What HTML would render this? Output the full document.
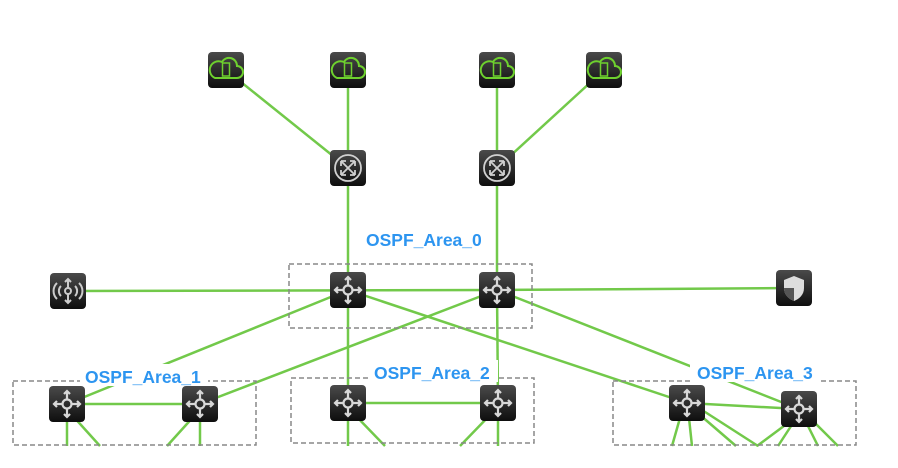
<!DOCTYPE html>
<html><head><meta charset="utf-8"><style>
html,body{margin:0;padding:0;background:#fff;width:898px;height:468px;overflow:hidden}
text{font-family:"Liberation Sans",sans-serif;font-weight:bold;fill:#2d95f0;font-size:17.5px}
</style></head><body>
<svg width="898" height="468" viewBox="0 0 898 468" xmlns="http://www.w3.org/2000/svg">
<defs>
<linearGradient id="g" x1="0" y1="0" x2="0" y2="1"><stop offset="0" stop-color="#4a4a4a"/><stop offset="1" stop-color="#0e0e0e"/></linearGradient>
<g id="bg"><rect x="-18" y="-18" width="36" height="36" rx="4" fill="url(#g)"/></g>
<g id="rt"><use href="#bg"/>
<g stroke="#d8d8d8" stroke-width="2.2" fill="none"><circle r="4.5"/>
<path d="M0-4.5V-13M0 4.5V13M-4.5 0H-13M4.5 0H13"/>
<path d="M-3-10L0-13L3-10M-3 10L0 13L3 10M-10-3L-13 0L-10 3M10-3L13 0L10 3"/></g></g>
<g id="sw"><use href="#bg"/><g stroke="#d0d0d0" stroke-width="1.8" fill="none"><circle r="13"/>
<path d="M-7-7L7 7M7-7L-7 7M-7-7h5M-7-7v5M7 7h-5M7 7v-5M7-7h-5M7-7v5M-7 7h5M-7 7v-5"/></g></g>
<g id="cl"><use href="#bg"/><path d="M-11 8h22a6 6 0 0 0 0-12a8 8 0 0 0-15-4a7 7 0 0 0-7 16z" stroke="#6ed12e" stroke-width="2" fill="none"/>
<rect x="-3.5" y="-7" width="7" height="13" stroke="#6ed12e" stroke-width="1.5" fill="none"/></g>
</defs>
<g stroke="#72c94a" stroke-width="2.5" fill="none">
<line x1="226" y1="70" x2="348" y2="168"/><line x1="348" y1="70" x2="348" y2="290"/>
<line x1="497" y1="70" x2="497" y2="290"/><line x1="604" y1="70" x2="497" y2="168"/>
<line x1="68" y1="291" x2="497" y2="290"/><line x1="497" y1="290" x2="794" y2="288"/>
<line x1="348" y1="290" x2="67" y2="404"/><line x1="497" y1="290" x2="200" y2="404"/>
<line x1="348" y1="290" x2="348" y2="403"/><line x1="497" y1="290" x2="498" y2="403"/>
<line x1="348" y1="290" x2="687" y2="403"/><line x1="497" y1="290" x2="799" y2="409"/>
<line x1="67" y1="404" x2="200" y2="404"/><line x1="348" y1="403" x2="498" y2="403"/><line x1="687" y1="403" x2="799" y2="409"/>
<line x1="67" y1="404" x2="67" y2="446"/><line x1="72" y1="415" x2="100" y2="446"/>
<line x1="195" y1="415" x2="167" y2="446"/><line x1="200" y1="404" x2="200" y2="446"/>
<line x1="348" y1="403" x2="348" y2="446"/><line x1="355" y1="415" x2="385" y2="446"/>
<line x1="490" y1="415" x2="460" y2="446"/><line x1="498" y1="403" x2="498" y2="446"/>
<line x1="680" y1="418" x2="672" y2="446"/><line x1="689" y1="418" x2="692" y2="446"/>
<line x1="700" y1="415" x2="736" y2="446"/><line x1="702" y1="410" x2="758" y2="446"/>
<line x1="792" y1="420" x2="757" y2="446"/><line x1="795" y1="420" x2="778" y2="446"/>
<line x1="805" y1="420" x2="818" y2="446"/><line x1="810" y1="418" x2="838" y2="446"/>
</g>
<g stroke="#888" stroke-width="1.5" stroke-dasharray="5,3" fill="none">
<rect x="289" y="264" width="243" height="64"/>
<rect x="13" y="381" width="243" height="64"/>
<rect x="291" y="378" width="243" height="65"/>
<rect x="613" y="381" width="243" height="64"/>
</g>
<g fill="#fff">
<rect x="80" y="364" width="128" height="22"/><rect x="368" y="360" width="130" height="22"/><rect x="690" y="360" width="130" height="22"/>
</g>
<text x="366" y="246">OSPF_Area_0</text>
<text x="85" y="383">OSPF_Area_1</text>
<text x="374" y="379">OSPF_Area_2</text>
<text x="697" y="379">OSPF_Area_3</text>
<use href="#cl" x="226" y="70"/><use href="#cl" x="348" y="70"/><use href="#cl" x="497" y="70"/><use href="#cl" x="604" y="70"/>
<use href="#sw" x="348" y="168"/><use href="#sw" x="497" y="168"/>
<use href="#rt" x="348" y="290"/><use href="#rt" x="497" y="290"/>
<g transform="translate(68,291)"><use href="#bg"/><g stroke="#ccc" stroke-width="2" fill="none"><circle r="3"/><path d="M0-3V-12M0 3V12M-3-9L0-12L3-9M-3 9L0 12L3 9M-7-5a7 7 0 0 0 0 10M7-5a7 7 0 0 1 0 10M-11-8a11 11 0 0 0 0 16M11-8a11 11 0 0 1 0 16"/></g></g>
<g transform="translate(794,288)"><use href="#bg"/><path d="M0-12L10-8V0C10 7 5 11 0 13C-5 11-10 7-10 0V-8Z" fill="#ddd"/><path d="M0-12V13H0C-5 11-10 7-10 0H0V-12" fill="#555"/></g>
<use href="#rt" x="67" y="404"/><use href="#rt" x="200" y="404"/>
<use href="#rt" x="348" y="403"/><use href="#rt" x="498" y="403"/>
<use href="#rt" x="687" y="403"/><use href="#rt" x="799" y="409"/>
</svg>
</body></html>
